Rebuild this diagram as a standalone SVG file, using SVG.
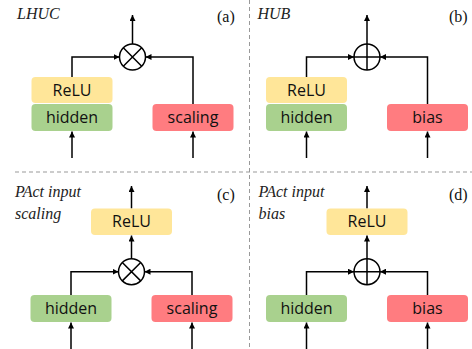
<svg xmlns="http://www.w3.org/2000/svg" width="472" height="349" viewBox="0 0 472 349">
<style>
.bg{fill:#fff}
.relu{fill:#FFE699}
.hid{fill:#A9D18E}
.red{fill:#FF7C80}
.lbl{font-family:"Open Sans","Liberation Sans",sans-serif;font-size:16px;fill:#111;text-anchor:middle}
.ttl{font-family:"Liberation Serif",serif;font-style:italic;font-size:16px;fill:#222}
.tag{font-family:"Liberation Serif",serif;font-size:16px;fill:#111}
.ln{fill:none;stroke:#000;stroke-width:1.5}
.op{fill:#fff;stroke:#000;stroke-width:1.5}
.sep{fill:none;stroke:#999;stroke-width:1;stroke-dasharray:4 3}
</style>
<defs>
<marker id="ah" viewBox="0 0 10 10" refX="10" refY="5" markerWidth="6" markerHeight="6" markerUnits="userSpaceOnUse" orient="auto">
<path d="M0,0 L10,5 L0,10 z" fill="#000"/>
</marker>
</defs>
<rect class="bg" x="0" y="0" width="472" height="349"/>
<g id="separators">
<line class="sep" x1="15" y1="172" x2="472" y2="172"/>
<line class="sep" x1="249.5" y1="0" x2="249.5" y2="349"/>
</g>
<g id="connectors">
<!-- (a) -->
<line class="ln" x1="132.5" y1="44" x2="132.5" y2="15" marker-end="url(#ah)"/>
<path class="ln" d="M72,77 V57 H119.5" marker-end="url(#ah)"/>
<path class="ln" d="M193,104 V57 H145.5" marker-end="url(#ah)"/>
<line class="ln" x1="72" y1="158" x2="72" y2="131.5" marker-end="url(#ah)"/>
<line class="ln" x1="193" y1="158" x2="193" y2="131.5" marker-end="url(#ah)"/>
<!-- (b) -->
<line class="ln" x1="367" y1="44" x2="367" y2="15" marker-end="url(#ah)"/>
<path class="ln" d="M306.5,77 V57 H354" marker-end="url(#ah)"/>
<path class="ln" d="M427.5,104 V57 H380" marker-end="url(#ah)"/>
<line class="ln" x1="306.5" y1="158" x2="306.5" y2="131.5" marker-end="url(#ah)"/>
<line class="ln" x1="427.5" y1="158" x2="427.5" y2="131.5" marker-end="url(#ah)"/>
<!-- (c) -->
<line class="ln" x1="131.5" y1="208.5" x2="131.5" y2="186" marker-end="url(#ah)"/>
<line class="ln" x1="131.5" y1="258.7" x2="131.5" y2="235.5" marker-end="url(#ah)"/>
<path class="ln" d="M71,295 V271.7 H118.5" marker-end="url(#ah)"/>
<path class="ln" d="M192,295 V271.7 H144.5" marker-end="url(#ah)"/>
<line class="ln" x1="71" y1="349" x2="71" y2="322.5" marker-end="url(#ah)"/>
<line class="ln" x1="192" y1="349" x2="192" y2="322.5" marker-end="url(#ah)"/>
<!-- (d) -->
<line class="ln" x1="367" y1="208.5" x2="367" y2="186" marker-end="url(#ah)"/>
<line class="ln" x1="367" y1="258.7" x2="367" y2="235.5" marker-end="url(#ah)"/>
<path class="ln" d="M306.5,295 V271.7 H354" marker-end="url(#ah)"/>
<path class="ln" d="M427.5,295 V271.7 H380" marker-end="url(#ah)"/>
<line class="ln" x1="306.5" y1="349" x2="306.5" y2="322.5" marker-end="url(#ah)"/>
<line class="ln" x1="427.5" y1="349" x2="427.5" y2="322.5" marker-end="url(#ah)"/>
</g>
<g id="panel-a">
<text class="ttl" x="17" y="19">LHUC</text>
<text class="tag" x="217" y="22">(a)</text>
<g id="a-relu"><rect class="relu" x="31.5" y="77" width="81" height="26" rx="4"/><text class="lbl" x="72" y="95.5">ReLU</text></g>
<g id="a-hidden"><rect class="hid" x="31.5" y="104" width="81" height="27" rx="4"/><text class="lbl" x="72" y="123">hidden</text></g>
<g id="a-scaling"><rect class="red" x="152.5" y="104" width="81" height="27" rx="4"/><text class="lbl" x="193" y="123">scaling</text></g>
<g id="a-mul"><circle class="op" cx="132.5" cy="57" r="13"/><path class="ln" d="M123.3,47.8 L141.7,66.2 M141.7,47.8 L123.3,66.2"/></g>
</g>
<g id="panel-b">
<text class="ttl" x="257.5" y="19">HUB</text>
<text class="tag" x="449" y="22">(b)</text>
<g id="b-relu"><rect class="relu" x="266" y="77" width="81" height="26" rx="4"/><text class="lbl" x="306.5" y="95.5">ReLU</text></g>
<g id="b-hidden"><rect class="hid" x="266" y="104" width="81" height="27" rx="4"/><text class="lbl" x="306.5" y="123">hidden</text></g>
<g id="b-bias"><rect class="red" x="387" y="104" width="81" height="27" rx="4"/><text class="lbl" x="427.5" y="123">bias</text></g>
<g id="b-add"><circle class="op" cx="367" cy="57" r="13"/><path class="ln" d="M354,57 H380 M367,44 V70"/></g>
</g>
<g id="panel-c">
<text class="ttl" x="15" y="197">PAct input</text>
<text class="ttl" x="15" y="219">scaling</text>
<text class="tag" x="217" y="200">(c)</text>
<g id="c-relu"><rect class="relu" x="91" y="208.5" width="81" height="26.5" rx="4"/><text class="lbl" x="131.5" y="227">ReLU</text></g>
<g id="c-hidden"><rect class="hid" x="30.5" y="295" width="81" height="27" rx="4"/><text class="lbl" x="71" y="314">hidden</text></g>
<g id="c-scaling"><rect class="red" x="151.5" y="295" width="81" height="27" rx="4"/><text class="lbl" x="192" y="314">scaling</text></g>
<g id="c-mul"><circle class="op" cx="131.5" cy="271.7" r="13"/><path class="ln" d="M122.3,262.5 L140.7,280.9 M140.7,262.5 L122.3,280.9"/></g>
</g>
<g id="panel-d">
<text class="ttl" x="258.5" y="197">PAct input</text>
<text class="ttl" x="258.5" y="219">bias</text>
<text class="tag" x="449" y="200">(d)</text>
<g id="d-relu"><rect class="relu" x="326.5" y="208.5" width="81" height="26.5" rx="4"/><text class="lbl" x="367" y="227">ReLU</text></g>
<g id="d-hidden"><rect class="hid" x="266" y="295" width="81" height="27" rx="4"/><text class="lbl" x="306.5" y="314">hidden</text></g>
<g id="d-bias"><rect class="red" x="387" y="295" width="81" height="27" rx="4"/><text class="lbl" x="427.5" y="314">bias</text></g>
<g id="d-add"><circle class="op" cx="367" cy="271.7" r="13"/><path class="ln" d="M354,271.7 H380 M367,258.7 V284.7"/></g>
</g>
</svg>
